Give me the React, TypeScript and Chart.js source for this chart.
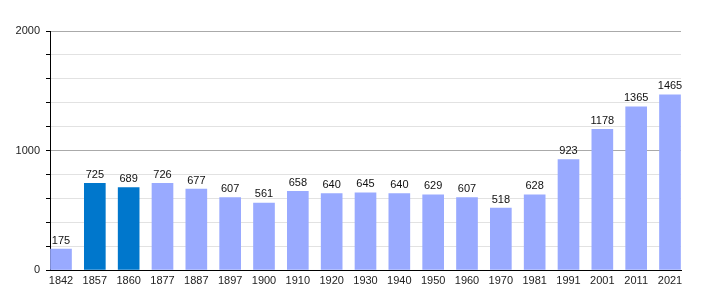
import React, { useEffect, useRef } from "react";
import { Chart, registerables } from "chart.js";

Chart.register(...registerables);

const years = ["1842", "1857", "1860", "1877", "1887", "1897", "1900", "1910", "1920", "1930", "1940", "1950", "1960", "1970", "1981", "1991", "2001", "2011", "2021"];
const population = [175, 725, 689, 726, 677, 607, 561, 658, 640, 645, 640, 629, 607, 518, 628, 923, 1178, 1365, 1465];
const highlightedYears = ["1857", "1860"];
const yTickLabels = [0, 1000, 2000];

const FONT = "'Liberation Sans', Arial, Helvetica, sans-serif";

const valueLabels = {
  id: "valueLabels",
  afterDatasetsDraw(chart: any) {
    const ctx = chart.ctx;
    const meta = chart.getDatasetMeta(0);
    ctx.save();
    ctx.font = `11px ${FONT}`;
    ctx.fillStyle = "#111";
    ctx.textAlign = "center";
    ctx.textBaseline = "bottom";
    meta.data.forEach((el: any, i: number) => {
      ctx.fillText(String(population[i]), el.x, el.y - 3);
    });
    ctx.restore();
  },
};

export default function App() {
  const ref = useRef<HTMLCanvasElement>(null);
  useEffect(() => {
    document.body.style.margin = "0";
    const chart = new Chart(ref.current!, {
      type: "bar",
      data: {
        datasets: [
          {
            data: population.map((v, i) => ({ x: i, y: v })),
            backgroundColor: years.map((y) => (highlightedYears.includes(y) ? "#0077cc" : "#99aaff")),
            barThickness: 21,
            borderWidth: 0,
          },
        ],
      },
      options: {
        animation: false,
        responsive: false,
        maintainAspectRatio: false,
        layout: { padding: { top: 31, right: 29, bottom: 0, left: 0 } },
        plugins: { legend: { display: false }, tooltip: { enabled: false } },
        scales: {
          x: {
            type: "linear",
            offset: false,
            min: -0.325,
            max: 18.325,
            afterFit: (s: any) => {
              s.height = 30;
            },
            grid: { display: true, offset: false, color: "transparent", drawTicks: false },
            border: { display: true, color: "#000", width: 1 },
            ticks: {
              stepSize: 1,
              includeBounds: false,
              autoSkip: false,
              maxRotation: 0,
              padding: 4,
              color: "#222",
              font: { family: FONT, size: 11 },
              callback: (v: any) => {
                const i = Math.round(Number(v));
                return Math.abs(Number(v) - i) < 1e-6 && years[i] !== undefined ? years[i] : "";
              },
            },
          },
          y: {
            min: 0,
            max: 2000,
            afterFit: (s: any) => {
              s.width = 50;
            },
            grid: {
              color: (c: any) => (c.tick && c.tick.value % 1000 === 0 ? "#aaaaaa" : "#e2e2e2"),
              tickColor: "#000",
              tickLength: 4,
            },
            border: { display: true, color: "#000", width: 1 },
            ticks: {
              stepSize: 200,
              padding: 6,
              color: "#222",
              font: { family: FONT, size: 11 },
              callback: (v: any) => (yTickLabels.includes(v) ? String(v) : ""),
            },
          },
        },
      },
      plugins: [valueLabels],
    });
    return () => chart.destroy();
  }, []);
  return (
    <div style={{ width: 710, height: 300 }}>
      <canvas ref={ref} width={710} height={300} />
    </div>
  );
}
